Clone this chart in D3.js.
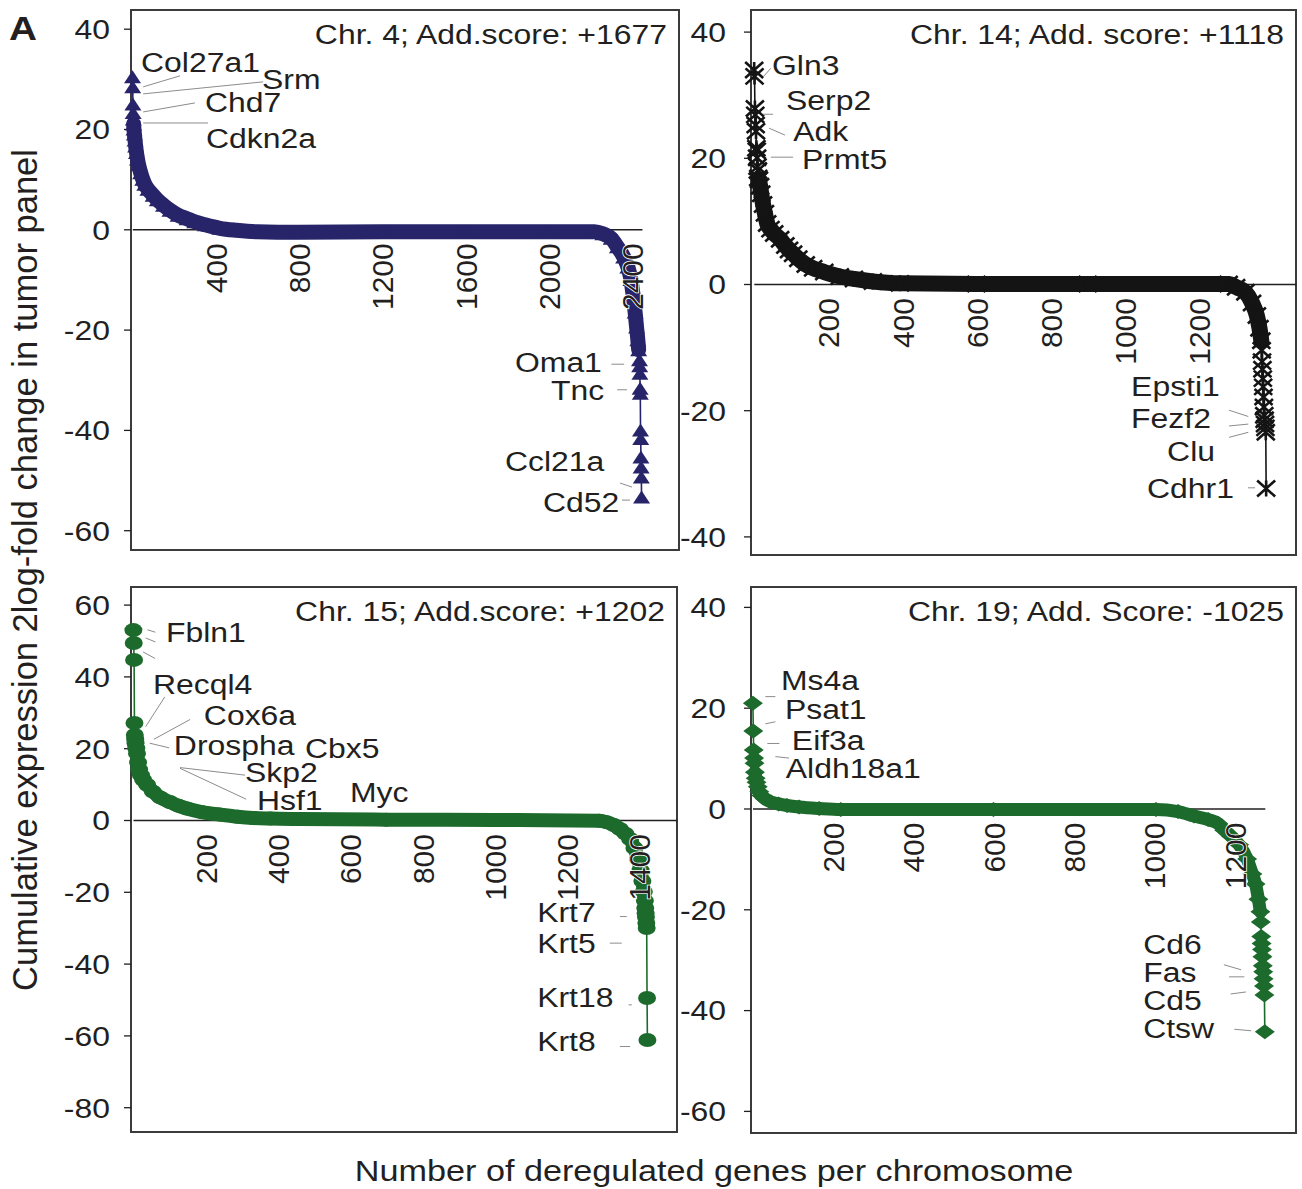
<!DOCTYPE html>
<html>
<head>
<meta charset="utf-8">
<script src="https://cdn.jsdelivr.net/npm/d3@7"></script>
<style>
  body { margin: 0; background: #fff; }
  svg text { font-family: "Liberation Sans", Arial, sans-serif; fill: #231f20; }
</style>
</head>
<body>
<svg id="chart" width="1302" height="1189"></svg>
<script>
// ---- Chr. 4 (triangles) ----
var chr4Total = 2446;
var chr4TopValues = [30.4, 28.4, 25.0, 23.3, 22.0];
var chr4BodyRank = [6, 8, 10, 13, 16, 20, 25, 30, 40, 50, 60, 75, 100, 120, 150, 181, 220, 263, 300, 350, 421, 500, 600, 800, 1200, 1600, 2000, 2220, 2260, 2300, 2330, 2360, 2380, 2395, 2405, 2415, 2422, 2428, 2432];
var chr4BodyValue = [21.0, 20.0, 19.0, 17.8, 16.6, 15.3, 14.0, 12.9, 11.3, 10.0, 9.0, 8.0, 6.8, 5.9, 4.8, 3.8, 2.8, 2.1, 1.5, 0.9, 0.2, -0.2, -0.5, -0.6, -0.5, -0.5, -0.5, -0.5, -0.9, -1.8, -3.5, -5.5, -7.5, -10, -13, -16.5, -19.5, -22, -24];
var chr4BottomValues = [-26, -27.2, -28.7, -31.7, -32.7, -40, -41.7, -45.4, -47.4, -49.4, -53.4];
var chr4XTicks = [400, 800, 1200, 1600, 2000, 2400];
var chr4YTicks = [40, 20, 0, -20, -40, -60];

// ---- Chr. 14 (asterisks) ----
var chr14Total = 1381;
var chr14TopValues = [33.9, 32.9, 27.8, 26.8, 25.2, 24.2, 21.5, 21.1, 20.0, 18.6, 18.0, 16.8];
var chr14BodyRank = [14, 17, 20, 25, 30, 36, 45, 55, 71, 85, 95, 106, 120, 140, 160, 190, 232, 270, 321, 394, 600, 900, 1280, 1300, 1325, 1343, 1356, 1363, 1368];
var chr14BodyValue = [16.5, 15.5, 14.3, 12.6, 11.2, 9.6, 8.7, 8.0, 7.1, 6.1, 5.4, 4.8, 4.0, 3.1, 2.5, 1.9, 1.2, 0.8, 0.4, 0.1, 0, 0, 0, -0.5, -1.3, -3.0, -5.0, -7.0, -9.0];
var chr14BottomValues = [-10.5, -12.3, -13.5, -15.0, -16.3, -17.9, -19.5, -20.8, -21.5, -22.2, -22.8, -23.5, -32.4];
var chr14XTicks = [200, 400, 600, 800, 1000, 1200];
var chr14YTicks = [40, 20, 0, -20, -40];

// ---- Chr. 15 (circles) ----
var chr15Total = 1423;
var chr15TopValues = [52.9, 49.3, 44.6, 27.0, 23.7];
var chr15BodyRank = [6, 7, 9, 11, 14, 17, 22, 28, 39, 55, 75, 102, 125, 149, 190, 241, 290, 332, 380, 462, 700, 1000, 1290, 1310, 1330, 1347, 1362, 1375, 1387, 1397, 1404, 1409, 1413, 1416];
var chr15BodyValue = [22.5, 21.4, 20.0, 18.5, 16.0, 14.1, 12.5, 11.2, 9.8, 7.9, 6.3, 5.0, 4.0, 3.2, 2.2, 1.5, 0.9, 0.56, 0.4, 0.28, 0.1, 0.0, -0.2, -0.6, -1.4, -2.5, -3.8, -5.3, -7.8, -10.9, -14.0, -17.0, -20.0, -22.5];
var chr15BottomValues = [-24.5, -26.0, -27.0, -28.7, -30.1, -49.6, -61.3];
var chr15XTicks = [200, 400, 600, 800, 1000, 1200, 1400];
var chr15YTicks = [60, 40, 20, 0, -20, -40, -60, -80];

// ---- Chr. 19 (diamonds) ----
var chr19Total = 1276;
var chr19TopValues = [20.9, 15.4, 11.6, 10.0, 9.0];
var chr19BodyRank = [6, 8, 10, 13, 17, 22, 30, 46, 65, 86, 116, 166, 220, 600, 1005, 1060, 1100, 1135, 1160, 1175, 1192, 1212, 1232, 1245, 1253, 1260, 1265];
var chr19BodyValue = [7.2, 6.0, 5.2, 4.3, 3.3, 2.6, 2.0, 1.3, 0.9, 0.6, 0.3, 0.0, -0.2, -0.2, -0.2, -0.6, -1.5, -2.2, -3.0, -4.3, -5.5, -7.2, -10.0, -13.0, -15.0, -18.0, -20.5];
var chr19BottomValues = [-22.5, -25.4, -26.8, -28.0, -29.4, -31.2, -32.4, -33.8, -35.2, -37.0, -44.3];
var chr19XTicks = [200, 400, 600, 800, 1000, 1200];
var chr19YTicks = [40, 20, 0, -20, -40, -60];

// gene labels: text, rank, value (left edge / vertical middle of the text)
var chr4Labels = [["Col27a1", 42, 33.3], ["Srm", 623, 30.0], ["Chd7", 349, 25.4], ["Cdkn2a", 354, 18.2],
                  ["Oma1", 1838, -26.5], ["Tnc", 2011, -32.0], ["Ccl21a", 1790, -46.2], ["Cd52", 1973, -54.4]];
var chr4Leaders = [[229, 30.6, 52, 28.4], [628, 29.4, 52, 27.0], [301, 25.2, 52, 23.4], [364, 21.2, 52, 21.2],
                   [2301, -26.9, 2362, -26.9], [2329, -32.0, 2376, -32.0], [2343, -50.6, 2400, -51.4], [2352, -54, 2390, -54]];
var chr14Labels = [["Gln3", 49, 34.7], ["Serp2", 87, 29.2], ["Adk", 106, 24.2], ["Prmt5", 130, 19.7],
                   ["Epsti1", 1017, -16.2], ["Fezf2", 1017, -21.2], ["Clu", 1114, -26.5], ["Cdhr1", 1060, -32.3]];
var chr14Leaders = [[46, 34.2, 25, 32.8], [25, 26.9, 52, 26.9], [41, 24.7, 84, 23.6], [46, 20.1, 106, 20.1],
                    [1281, -20.0, 1333, -21.0], [1281, -22.5, 1333, -22.2], [1281, -24.3, 1333, -23.5], [1332, -32.3, 1351, -32.3]];
var chr15Labels = [["Fbln1", 91, 52.4], ["Recql4", 55, 37.9], ["Cox6a", 196, 29.2], ["Drospha", 113, 20.9],
                   ["Cbx5", 476, 20.1], ["Skp2", 310, 13.4], ["Hsf1", 343, 5.6], ["Myc", 600, 7.8],
                   ["Krt7", 1118, -25.6], ["Krt5", 1118, -34.3], ["Krt18", 1118, -49.3], ["Krt8", 1118, -61.6]];
var chr15Leaders = [[62, 52.3, 40, 53.0], [62, 49.6, 35, 50.7], [61, 45.0, 28, 46.8], [88, 34.3, 35, 26.0],
                    [158, 28.0, 58, 22.5], [100, 20.1, 46, 21.4], [310, 12.5, 130, 14.6], [313, 5.8, 130, 14.4],
                    [1347, -26.9, 1366, -26.9], [1319, -34.3, 1352, -34.3], [1371, -51.5, 1380, -51.5], [1347, -63.1, 1375, -63.1]];
var chr19Labels = [["Ms4a", 71, 25.5], ["Psat1", 81, 19.7], ["Eif3a", 98, 13.6], ["Aldh18a1", 83, 8.0],
                   ["Cd6", 973, -26.9], ["Fas", 973, -32.5], ["Cd5", 973, -38.1], ["Ctsw", 973, -43.6]];
var chr19Leaders = [[32, 22.2, 57, 22.2], [32, 16.8, 57, 17.2], [37, 12.9, 67, 12.9], [57, 10.3, 91, 10.0],
                    [1174, -31.0, 1217, -32.0], [1187, -33.4, 1225, -33.4], [1191, -36.8, 1229, -36.4], [1200, -43.8, 1242, -44.1]];

var panels = [
  { title: "Chr. 4; Add.score: +1677", total: chr4Total, top: chr4TopValues, bodyRank: chr4BodyRank, bodyValue: chr4BodyValue,
    bottom: chr4BottomValues, xTicks: chr4XTicks, yTicks: chr4YTicks, labels: chr4Labels, leaders: chr4Leaders,
    xEnd: 2448, x0: 132.3, kx: 0.2082, yDomain: [-60, 40], yRange: [530.2, 28.7],
    frame: [131, 10, 679, 550], color: "#28246a", marker: "triangle", mw: 17, mh: 13, band: 15, pad: 21 },
  { title: "Chr. 14; Add. score: +1118", total: chr14Total, top: chr14TopValues, bodyRank: chr14BodyRank, bodyValue: chr14BodyValue,
    bottom: chr14BottomValues, xTicks: chr14XTicks, yTicks: chr14YTicks, labels: chr14Labels, leaders: chr14Leaders,
    xEnd: 1461, x0: 753.8, kx: 0.371, yDomain: [-40, 40], yRange: [536.4, 31.6],
    frame: [751, 10, 1296, 555], color: "#141414", marker: "star", mw: 18, mh: 16, band: 16, pad: 25 },
  { title: "Chr. 15; Add.score: +1202", total: chr15Total, top: chr15TopValues, bodyRank: chr15BodyRank, bodyValue: chr15BodyValue,
    bottom: chr15BottomValues, xTicks: chr15XTicks, yTicks: chr15YTicks, labels: chr15Labels, leaders: chr15Leaders,
    xEnd: 1504, x0: 133, kx: 0.3615, yDomain: [-80, 60], yRange: [1107.2, 604.6],
    frame: [131, 587, 677, 1132], color: "#1d6b2c", marker: "circle", mw: 18, mh: 14, band: 14, pad: 21 },
  { title: "Chr. 19; Add. Score: -1025", total: chr19Total, top: chr19TopValues, bodyRank: chr19BodyRank, bodyValue: chr19BodyValue,
    bottom: chr19BottomValues, xTicks: chr19XTicks, yTicks: chr19YTicks, labels: chr19Labels, leaders: chr19Leaders,
    xEnd: 1276, x0: 752.5, kx: 0.4015, yDomain: [-60, 40], yRange: [1110.9, 606.9],
    frame: [751, 587, 1296, 1133], color: "#1d6b2c", marker: "diamond", mw: 20, mh: 15, band: 13, pad: 25 }
];

var svg = d3.select("#chart");
var stretch = 1.14;

function label(g, s, x, y, anchor, size) {
  return g.append("text")
      .attr("transform", "translate(" + x + "," + y + ") scale(" + stretch + ",1)")
      .attr("text-anchor", anchor || "start")
      .attr("dy", "0.35em")
      .style("font-size", (size || 28) + "px")
      .text(s);
}

function markerPath(type, w, h) {
  var a = w / 2, b = h / 2;
  if (type === "triangle") return "M0," + (-b) + "L" + a + "," + b + "L" + (-a) + "," + b + "Z";
  if (type === "diamond") return "M0," + (-b) + "L" + a + ",0L0," + b + "L" + (-a) + ",0Z";
  if (type === "star") return "M" + (-a) + "," + (-b) + "L" + a + "," + b + "M" + (-a) + "," + b + "L" + a + "," + (-b) + "M0," + (-b) + "L0," + b;
  return null;
}

panels.forEach(function(p) {
  var g = svg.append("g");
  var f = p.frame;
  var x = d3.scaleLinear().domain([0, p.xEnd]).range([p.x0, p.x0 + p.kx * p.xEnd]);
  var y = d3.scaleLinear().domain(p.yDomain).range(p.yRange);

  var pts = [];
  p.top.forEach(function(v, i) { pts.push({ r: i + 1, v: v }); });
  p.bodyRank.forEach(function(r, i) { pts.push({ r: r, v: p.bodyValue[i] }); });
  p.bottom.forEach(function(v, i) { pts.push({ r: p.total - p.bottom.length + 1 + i, v: v }); });
  var body = pts.slice(p.top.length, pts.length - p.bottom.length);

  // frame
  g.append("rect")
      .attr("x", f[0]).attr("y", f[1])
      .attr("width", f[2] - f[0]).attr("height", f[3] - f[1])
      .attr("fill", "none").attr("stroke", "#3b3b3b").attr("stroke-width", 2);

  // zero line (x axis domain)
  var xAxisLine = g.append("g")
      .attr("transform", "translate(0," + y(0) + ")")
      .call(d3.axisBottom(x).tickValues([]).tickSizeOuter(0));
  xAxisLine.select(".domain").attr("stroke", "#231f20").attr("stroke-width", 1.5);

  // y axis
  var yAxis = g.append("g")
      .attr("transform", "translate(" + f[0] + ",0)")
      .call(d3.axisLeft(y).tickValues(p.yTicks).tickSize(7).tickFormat(function(d) { return String(d); }));
  yAxis.select(".domain").remove();
  yAxis.selectAll(".tick line").attr("stroke", "#231f20").attr("stroke-width", 1.3);
  yAxis.selectAll(".tick text")
      .attr("x", -p.pad / stretch).attr("dy", "0.35em")
      .attr("transform", "scale(" + stretch + ",1)")
      .attr("fill", "#231f20")
      .style("font-size", "28px");

  var line = d3.line().x(function(d) { return x(d.r); }).y(function(d) { return y(d.v); });

  // thin connector through every gene
  g.append("path").datum(pts)
      .attr("d", line).attr("fill", "none")
      .attr("stroke", p.color).attr("stroke-width", 1.6);

  // dense body of overlapping markers
  g.append("path").datum(body)
      .attr("d", line.curve(d3.curveMonotoneX)).attr("fill", "none")
      .attr("stroke", p.color).attr("stroke-width", p.band)
      .attr("stroke-linejoin", "round").attr("stroke-linecap", "round");
  line.curve(d3.curveLinear);

  // markers
  var mk = g.append("g").selectAll("g").data(pts).join("g")
      .attr("transform", function(d) { return "translate(" + x(d.r) + "," + y(d.v) + ")"; });
  if (p.marker === "circle") {
    mk.append("ellipse").attr("rx", p.mw / 2).attr("ry", p.mh / 2).attr("fill", p.color);
  } else if (p.marker === "star") {
    mk.append("path").attr("d", markerPath("star", p.mw, p.mh))
        .attr("fill", "none").attr("stroke", p.color).attr("stroke-width", 2.6);
  } else {
    mk.append("path").attr("d", markerPath(p.marker, p.mw, p.mh)).attr("fill", p.color);
  }

  // x tick labels, rotated, on top of the data
  var xAxis = g.append("g")
      .attr("transform", "translate(0," + y(0) + ")")
      .call(d3.axisBottom(x).tickValues(p.xTicks).tickSize(0).tickFormat(d3.format("d")));
  xAxis.select(".domain").remove();
  xAxis.selectAll(".tick text")
      .attr("transform", "rotate(-90)")
      .attr("x", -14).attr("y", 0).attr("dy", "0.36em")
      .attr("text-anchor", "end")
      .attr("fill", "#231f20")
      .attr("stroke", "#fff").attr("stroke-width", 1.6)
      .attr("paint-order", "stroke")
      .style("font-size", "30px");

  // leader lines and gene names
  g.append("g").selectAll("line").data(p.leaders).join("line")
      .attr("x1", function(d) { return x(d[0]); }).attr("y1", function(d) { return y(d[1]); })
      .attr("x2", function(d) { return x(d[2]); }).attr("y2", function(d) { return y(d[3]); })
      .attr("stroke", "#8c8c8c").attr("stroke-width", 1);
  p.labels.forEach(function(d) { label(g, d[0], x(d[1]), y(d[2])); });

  // panel title
  label(g, p.title, f[2] - 12, f[1] + 24, "end");
});

// panel letter and shared axis titles
svg.append("text")
    .attr("transform", "translate(9,28) scale(" + stretch + ",1)")
    .attr("dy", "0.36em")
    .style("font-size", "34px").style("font-weight", "bold")
    .text("A");

svg.append("text")
    .attr("transform", "translate(25,570) rotate(-90)")
    .attr("text-anchor", "middle").attr("dy", "0.35em")
    .style("font-size", "34.5px")
    .text("Cumulative expression 2log-fold change in tumor panel");

label(svg, "Number of deregulated genes per chromosome", 714, 1170, "middle", 30);
</script>
</body>
</html>
